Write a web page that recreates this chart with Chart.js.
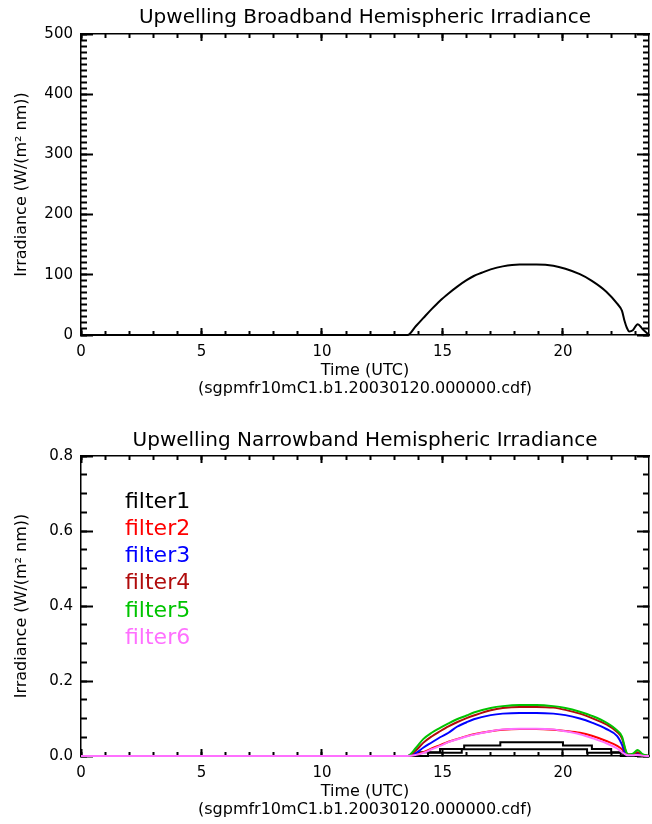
<!DOCTYPE html>
<html><head><meta charset="utf-8">
<script src="https://cdn.jsdelivr.net/npm/chart.js@4"></script>
<style>
html,body{margin:0;padding:0;background:#fff;width:652px;height:824px;overflow:hidden}
canvas{position:absolute;left:0}
#c1{top:0}
#c2{top:421px}
</style></head><body>
<canvas id="c1" width="652" height="403"></canvas>
<canvas id="c2" width="652" height="403"></canvas>
<script>
// ---------- data ----------
const xTicks = [0, 5, 10, 15, 20];
const xMax = 23.57;
const broadTicks = [0, 100, 200, 300, 400, 500];
const narrowTicks = [0, 0.2, 0.4, 0.6, 0.8];

const broadTime   = [0, 13.55, 13.9, 14.2, 14.55, 14.9, 15.25, 15.6, 16.0, 16.3, 16.6, 17.0, 17.5, 18.2, 18.9, 19.6, 20.1, 20.7, 21.2, 21.8, 22.25, 22.45, 22.55, 22.65, 22.75, 22.9, 23.1, 23.3, 23.57];
const broadValues = [0, 0,     15,   28,   43,    57,   69,    80,   91,   98,   103,  109,  114,  117,  117,  115,  110,  101,  90,   72,   52,    40,    24,    12,    6,     8,    18,   10,   0];

const filterLabels = ['filter1', 'filter2', 'filter3', 'filter4', 'filter5', 'filter6'];
const filterColors = ['#000000', '#ff0000', '#0000ff', '#b00c0c', '#00c400', '#ff70ff'];

const nbTime  = [0, 13.55, 13.9, 14.2, 14.55, 14.9, 15.25, 15.6, 16.0, 16.3, 17.0, 17.5, 18.2, 18.9, 19.6, 20.1, 20.7, 21.2, 21.8, 22.25, 22.45, 22.6, 22.7, 22.9, 23.1, 23.3, 23.57];
const filter2 = [0, 0, 0.004, 0.010, 0.020, 0.029, 0.038, 0.045, 0.053, 0.058, 0.066, 0.070, 0.072, 0.072, 0.070, 0.067, 0.062, 0.054, 0.040, 0.027, 0.018, 0.008, 0.004, 0.003, 0.006, 0.002, 0];
const filter3 = [0, 0, 0.008, 0.022, 0.036, 0.050, 0.062, 0.078, 0.090, 0.098, 0.109, 0.113, 0.115, 0.115, 0.113, 0.109, 0.100, 0.089, 0.072, 0.053, 0.030, 0.005, 0.002, 0.003, 0.008, 0.003, 0];
const filter4 = [0, 0, 0.015, 0.035, 0.052, 0.066, 0.079, 0.090, 0.101, 0.108, 0.122, 0.128, 0.131, 0.131, 0.129, 0.123, 0.113, 0.101, 0.084, 0.064, 0.047, 0.014, 0.004, 0.004, 0.010, 0.003, 0];
const filter5 = [0, 0, 0.022, 0.045, 0.062, 0.075, 0.087, 0.098, 0.108, 0.116, 0.128, 0.133, 0.136, 0.136, 0.133, 0.128, 0.118, 0.107, 0.089, 0.068, 0.052, 0.016, 0.004, 0.006, 0.016, 0.005, 0];
const filter6 = [0, 0, 0.003, 0.008, 0.018, 0.027, 0.037, 0.044, 0.052, 0.057, 0.066, 0.071, 0.073, 0.073, 0.071, 0.066, 0.058, 0.048, 0.034, 0.020, 0.010, 0.004, 0.002, 0.002, 0.003, 0.001, 0];

// filter1 is quantised (step-like)
const filter1Time = [0, 14.0, 14.9, 15.9, 17.4, 20.0, 21.2, 22.0, 22.5, 23.57];
const filter1     = [0, 0.010, 0.019, 0.028, 0.037, 0.028, 0.019, 0.010, 0, 0];
// second, lower black step trace visible in the plot
const lowerTime   = [0, 14.4, 15.8, 21.0, 22.4, 23.57];
const lowerValues = [0, 0.009, 0.018, 0.009, 0, 0];

// ---------- helpers ----------
const FAM = '"DejaVu Sans", sans-serif';
const pts = (xs, ys) => xs.map((x, i) => ({x: x, y: ys[i]}));
const steps = (max, step) => { const out = []; for (let i = 0; i * step <= max + 1e-9; i++) out.push(+(i * step).toFixed(6)); return out; };

// an axis that only contributes inward tick marks (and optionally the frame line)
function markAxis(axis, position, max, values, len, border) {
  return {
    type: 'linear', axis: axis, position: position, min: 0, max: max,
    afterBuildTicks: s => { s.ticks = values.map(v => ({value: v})); },
    afterFit: s => { if (axis === 'x') s.height = 0; else s.width = 0; },
    grid: {display: true, drawOnChartArea: false, drawTicks: true, tickLength: -len,
           color: '#000', tickColor: '#000', tickWidth: 2},
    border: {display: border, color: '#000', width: 1.5},
    ticks: {display: false, autoSkip: false}
  };
}

function makeLegend(showLegend) {
  return {
    id: 'textLegend',
    afterDraw(chart) {
      if (!showLegend) return;
      const ctx = chart.ctx, a = chart.chartArea;
      ctx.save();
      ctx.font = '22px ' + FAM;
      ctx.textBaseline = 'middle';
      ctx.textAlign = 'left';
      let k = 0;
      chart.data.datasets.forEach(ds => {
        if (!ds.label) return;
        ctx.fillStyle = ds.borderColor;
        ctx.fillText(ds.label, a.left + 44, a.top + 46 + k * 27.2);
        k++;
      });
      ctx.restore();
    }
  };
}

function makeOptions(title, titlePad, yTicks, yMax, yMinorStep, yFmt) {
  const xMinorVals = steps(xMax, 1);
  const yMinorVals = steps(yMax, yMinorStep);
  return {
    responsive: false,
    animation: false,
    devicePixelRatio: 1,
    layout: {padding: {left: 0, right: 3, top: 0, bottom: 0}},
    plugins: {
      legend: {display: false},
      tooltip: {enabled: false},
      title: {
        display: true, text: title, fullSize: false, color: '#000',
        font: {family: FAM, size: 20, weight: 'normal', lineHeight: 1.2},
        padding: titlePad
      }
    },
    scales: {
      x: {
        type: 'linear', position: 'bottom', min: 0, max: xMax, weight: 1,
        afterBuildTicks: s => { s.ticks = xTicks.map(v => ({value: v})); },
        afterFit: s => { s.height = 68; },
        grid: {display: true, drawOnChartArea: false, drawTicks: true, tickLength: -7,
               color: '#000', tickColor: '#000', tickWidth: 2},
        border: {display: true, color: '#000', width: 1.5},
        ticks: {color: '#000', font: {family: FAM, size: 15}, padding: 15, maxRotation: 0, autoSkip: false},
        title: {
          display: true, color: '#000',
          text: ['Time (UTC)', '(sgpmfr10mC1.b1.20030120.000000.cdf)'],
          font: {family: FAM, size: 16, lineHeight: '18px'},
          padding: {top: 0, bottom: 5}
        }
      },
      xMinor: markAxis('x', 'bottom', xMax, xMinorVals, 4, false),
      xTop: markAxis('x', 'top', xMax, xTicks, 7, true),
      xTopMinor: markAxis('x', 'top', xMax, xMinorVals, 4, false),
      y: {
        type: 'linear', position: 'left', min: 0, max: yMax, weight: 1,
        afterBuildTicks: s => { s.ticks = yTicks.map(v => ({value: v})); },
        afterFit: s => { s.width = 81; },
        grid: {display: true, drawOnChartArea: false, drawTicks: true, tickLength: -12,
               color: '#000', tickColor: '#000', tickWidth: 2},
        border: {display: true, color: '#000', width: 1.5},
        ticks: {color: '#000', font: {family: FAM, size: 15}, padding: 20, callback: yFmt},
        title: {
          display: true, color: '#000',
          text: 'Irradiance (W/(m\u00b2 nm))',
          font: {family: FAM, size: 16, lineHeight: 1.2},
          padding: {top: 12, bottom: 0}
        }
      },
      yMinor: markAxis('y', 'left', yMax, yMinorVals, 6, false),
      yRight: markAxis('y', 'right', yMax, yTicks, 12, true),
      yRightMinor: markAxis('y', 'right', yMax, yMinorVals, 6, false)
    }
  };
}

// ---------- top chart ----------
new Chart(document.getElementById('c1'), {
  type: 'line',
  data: {
    datasets: [{
      label: 'broadband', xAxisID: 'x', yAxisID: 'y',
      data: pts(broadTime, broadValues),
      borderColor: '#000', borderWidth: 2, pointRadius: 0,
      cubicInterpolationMode: 'monotone', clip: 4
    }]
  },
  options: makeOptions('Upwelling Broadband Hemispheric Irradiance', {top: 6, bottom: 4},
    broadTicks, 500, 10, v => String(v)),
  plugins: [makeLegend(false)]
});

// ---------- bottom chart ----------
const series = [null, filter2, filter3, filter4, filter5, filter6];
const nbSets = filterLabels.map((lab, i) => {
  const base = {
    label: lab, xAxisID: 'x', yAxisID: 'y',
    borderColor: filterColors[i], backgroundColor: filterColors[i],
    borderWidth: 2, pointRadius: 0, clip: 4, order: 6 - i
  };
  if (i === 0) {
    return Object.assign(base, {data: pts(filter1Time, filter1), stepped: true});
  }
  return Object.assign(base, {data: pts(nbTime, series[i]), cubicInterpolationMode: 'monotone'});
});
nbSets.push({
  label: '', xAxisID: 'x', yAxisID: 'y', data: pts(lowerTime, lowerValues), stepped: true,
  borderColor: '#000', borderWidth: 2, pointRadius: 0, clip: 4, order: 7
});

new Chart(document.getElementById('c2'), {
  type: 'line',
  data: {datasets: nbSets},
  options: makeOptions('Upwelling Narrowband Hemispheric Irradiance', {top: 8, bottom: 3},
    narrowTicks, 0.8, 0.05, v => v.toFixed(1)),
  plugins: [makeLegend(true)]
});
</script>
</body></html>
